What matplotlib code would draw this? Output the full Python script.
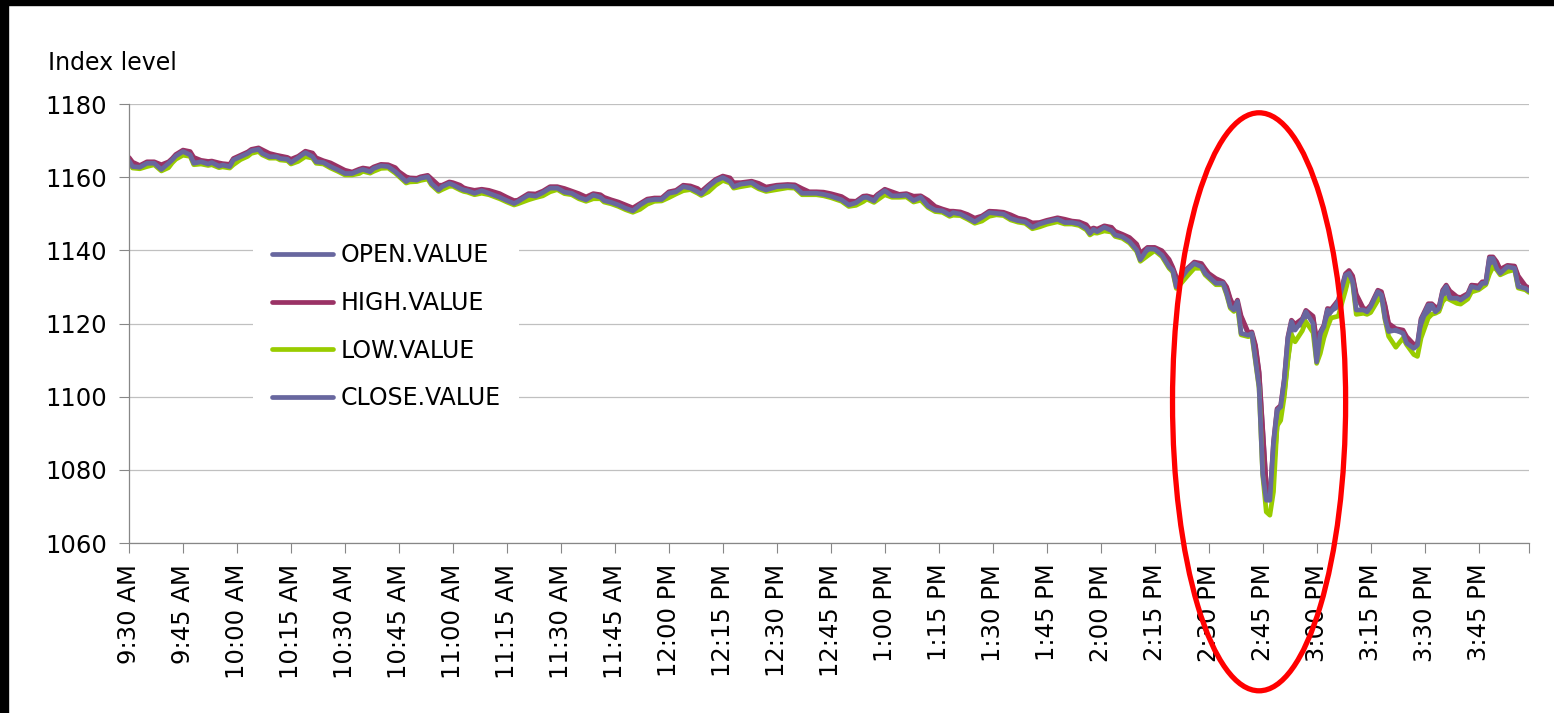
import matplotlib
matplotlib.use("Agg")
import matplotlib.pyplot as plt
from matplotlib.patches import Ellipse, Rectangle

# minutes after 9:30 AM
minutes = [
    0, 1, 3, 5, 7, 9, 11, 12, 13, 15, 17, 18, 20, 22, 23, 25, 26, 28, 29, 31,
    33, 34, 36, 37, 39, 41, 42, 44, 45, 47, 49, 51, 52, 54, 56, 58, 60, 62, 64, 65,
    67, 68, 70, 72, 74, 75, 77, 78, 80, 81, 83, 84, 86, 87, 89, 90, 92, 93, 94, 96,
    98, 100, 103, 105, 107, 108, 111, 113, 115, 117, 119, 121, 123, 125, 127, 129, 131, 132, 134, 136,
    138, 140, 142, 144, 146, 148, 150, 152, 154, 156, 158, 159, 161, 163, 165, 167, 168, 170, 173, 175,
    177, 180, 183, 185, 187, 189, 191, 193, 195, 198, 200, 202, 204, 205, 207, 208, 210, 212, 214, 216,
    218, 220, 222, 224, 226, 228, 229, 231, 233, 235, 237, 239, 241, 243, 245, 247, 249, 251, 253, 255,
    258, 260, 262, 264, 266, 267, 268, 269, 271, 273, 274, 276, 278, 280, 281, 283, 285, 287, 289, 290,
    291, 292, 294, 296, 298, 299, 300, 302, 304, 305, 306, 307, 308, 309, 311, 312, 313, 314, 315, 316,
    317, 318, 319, 320, 321, 322, 323, 324, 326, 327, 329, 330, 331, 332, 333, 334, 336, 338, 339, 340,
    341, 343, 344, 345, 347, 348, 349, 350, 352, 354, 355, 357, 358, 359, 361, 362, 363, 364, 365, 366,
    367, 369, 370, 372, 373, 375, 376, 377, 378, 379, 380, 381, 383, 385, 386, 388, 389,
]

open_value = [
    1165.0, 1163.7, 1162.8, 1163.3, 1163.8, 1163.0, 1163.0, 1164.3, 1165.3, 1166.4, 1166.6, 1165.0, 1164.0, 1163.9, 1163.8, 1163.5, 1163.2, 1163.1, 1163.8, 1165.2,
    1166.1, 1166.9, 1167.4, 1167.1, 1166.1, 1165.6, 1165.4, 1165.0, 1164.5, 1164.7, 1166.0, 1166.2, 1164.9, 1164.1, 1163.5, 1162.5, 1161.5, 1161.0, 1161.4, 1162.0,
    1161.8, 1162.0, 1162.8, 1163.0, 1162.2, 1161.1, 1159.7, 1159.1, 1159.3, 1159.5, 1159.9, 1159.2, 1157.4, 1157.0, 1157.9, 1158.1, 1157.4, 1156.7, 1156.4, 1156.0,
    1156.0, 1156.0, 1155.1, 1154.1, 1153.2, 1153.1, 1154.2, 1155.0, 1155.3, 1156.4, 1157.0, 1156.5, 1155.8, 1155.1, 1154.2, 1154.5, 1154.8, 1154.1, 1153.4, 1152.8,
    1152.0, 1151.2, 1151.6, 1153.0, 1153.8, 1153.9, 1154.8, 1155.8, 1156.7, 1157.2, 1156.5, 1155.7, 1156.4, 1158.2, 1159.5, 1159.4, 1158.1, 1157.8, 1158.3, 1157.9,
    1156.9, 1157.0, 1157.5, 1157.5, 1156.5, 1155.6, 1155.6, 1155.5, 1155.1, 1154.3, 1153.1, 1152.7, 1153.7, 1154.5, 1154.0, 1154.2, 1155.6, 1155.6, 1154.9, 1155.0,
    1154.4, 1154.1, 1153.3, 1151.6, 1150.9, 1150.3, 1150.0, 1150.1, 1149.4, 1148.4, 1148.4, 1149.7, 1150.2, 1150.0, 1149.3, 1148.4, 1148.0, 1147.1, 1146.8, 1147.5,
    1148.2, 1148.1, 1147.6, 1147.4, 1146.6, 1145.3, 1145.2, 1145.4, 1145.7, 1145.9, 1144.8, 1144.0, 1143.1, 1141.3, 1138.8, 1138.9, 1140.4, 1139.5, 1137.1, 1135.0,
    1132.3, 1131.0, 1133.3, 1135.5, 1136.0, 1134.6, 1133.3, 1131.9, 1131.0, 1129.6, 1126.4, 1124.2, 1124.9, 1121.7, 1117.1, 1117.1, 1113.7, 1106.4, 1090.9, 1075.4,
    1071.7, 1079.5, 1091.8, 1096.8, 1100.9, 1110.2, 1118.2, 1119.4, 1119.6, 1122.1, 1121.6, 1114.8, 1113.4, 1118.2, 1121.4, 1123.5, 1124.6, 1129.6, 1133.5, 1132.6,
    1127.6, 1123.7, 1123.5, 1123.9, 1126.7, 1128.3, 1124.6, 1119.6, 1118.0, 1117.8, 1116.0, 1113.9, 1113.7, 1117.5, 1123.0, 1125.0, 1124.1, 1123.7, 1126.4, 1129.4,
    1128.5, 1126.9, 1126.7, 1127.1, 1129.0, 1129.9, 1130.3, 1131.0, 1134.4, 1137.8, 1136.5, 1134.4, 1134.6, 1135.3, 1132.6, 1129.9, 1129.3,
]

high_value = [
    1165.4, 1164.1, 1163.2, 1164.2, 1164.2, 1163.4, 1164.2, 1165.1, 1166.2, 1167.4, 1167.0, 1165.4, 1164.6, 1164.3, 1164.4, 1163.9, 1163.7, 1163.5, 1165.1, 1166.0,
    1166.9, 1167.6, 1168.0, 1167.5, 1166.5, 1166.0, 1165.8, 1165.4, 1164.9, 1165.7, 1167.1, 1166.6, 1165.3, 1164.5, 1163.9, 1162.9, 1161.9, 1161.4, 1162.2, 1162.5,
    1162.2, 1162.8, 1163.5, 1163.4, 1162.6, 1161.5, 1160.1, 1159.8, 1159.7, 1160.1, 1160.5, 1159.6, 1157.8, 1157.8, 1158.7, 1158.5, 1157.8, 1157.1, 1156.8, 1156.4,
    1156.7, 1156.4, 1155.5, 1154.5, 1153.6, 1153.7, 1155.5, 1155.4, 1156.2, 1157.4, 1157.4, 1156.9, 1156.2, 1155.5, 1154.6, 1155.5, 1155.2, 1154.5, 1153.8, 1153.2,
    1152.4, 1151.6, 1152.8, 1154.0, 1154.3, 1154.3, 1156.0, 1156.4, 1157.8, 1157.6, 1156.9, 1156.1, 1157.8, 1159.4, 1160.3, 1159.8, 1158.5, 1158.5, 1158.9, 1158.3,
    1157.3, 1157.8, 1158.0, 1157.9, 1156.9, 1156.0, 1156.0, 1155.9, 1155.5, 1154.7, 1153.5, 1153.4, 1154.8, 1154.9, 1154.4, 1155.3, 1156.7, 1156.0, 1155.3, 1155.5,
    1154.8, 1154.9, 1153.7, 1152.0, 1151.3, 1150.7, 1150.7, 1150.5, 1149.8, 1148.8, 1149.4, 1150.7, 1150.6, 1150.4, 1149.7, 1148.8, 1148.4, 1147.5, 1147.6, 1148.2,
    1148.9, 1148.5, 1148.0, 1147.8, 1147.0, 1145.7, 1146.1, 1145.8, 1146.7, 1146.3, 1145.2, 1144.4, 1143.5, 1141.7, 1139.2, 1140.8, 1140.8, 1139.9, 1137.5, 1135.4,
    1132.7, 1132.3, 1135.0, 1136.8, 1136.4, 1135.0, 1133.7, 1132.3, 1131.4, 1130.0, 1126.8, 1124.6, 1126.4, 1122.1, 1117.5, 1117.7, 1114.1, 1106.8, 1091.3, 1075.8,
    1072.1, 1087.6, 1096.7, 1097.6, 1104.9, 1116.3, 1120.9, 1119.8, 1121.3, 1123.6, 1122.0, 1115.2, 1117.7, 1119.5, 1124.1, 1123.9, 1126.4, 1133.6, 1134.5, 1133.0,
    1128.0, 1124.1, 1123.9, 1125.0, 1129.1, 1128.7, 1125.0, 1120.0, 1118.6, 1118.2, 1116.4, 1114.3, 1114.5, 1121.3, 1125.4, 1125.4, 1124.5, 1124.5, 1129.1, 1130.5,
    1128.9, 1127.3, 1127.1, 1128.2, 1130.5, 1130.3, 1131.4, 1131.4, 1138.2, 1138.2, 1136.9, 1134.8, 1135.9, 1135.7, 1133.0, 1130.3, 1129.7,
]

low_value = [
    1164.1, 1162.5, 1162.3, 1162.9, 1163.4, 1161.7, 1162.6, 1163.9, 1164.9, 1166.0, 1165.7, 1163.4, 1163.6, 1163.2, 1163.4, 1162.6, 1162.8, 1162.5, 1163.4, 1164.8,
    1165.7, 1166.5, 1167.0, 1166.1, 1165.2, 1165.2, 1164.7, 1164.5, 1163.6, 1164.3, 1165.6, 1165.2, 1163.8, 1163.6, 1162.5, 1161.6, 1160.6, 1160.6, 1161.0, 1161.6,
    1161.1, 1161.6, 1162.4, 1162.5, 1161.1, 1160.2, 1158.4, 1158.7, 1158.8, 1159.1, 1159.5, 1157.9, 1156.1, 1156.6, 1157.5, 1157.5, 1156.5, 1156.1, 1155.9, 1155.2,
    1155.6, 1155.2, 1154.1, 1153.2, 1152.4, 1152.7, 1153.8, 1154.4, 1154.9, 1156.0, 1156.6, 1155.5, 1155.2, 1154.1, 1153.4, 1154.1, 1154.1, 1153.2, 1152.7, 1152.0,
    1151.1, 1150.4, 1151.2, 1152.6, 1153.4, 1153.5, 1154.4, 1155.4, 1156.3, 1156.6, 1155.6, 1155.0, 1156.0, 1157.8, 1159.1, 1158.4, 1157.0, 1157.4, 1157.9, 1156.8,
    1156.1, 1156.6, 1157.1, 1157.0, 1155.2, 1155.2, 1155.2, 1154.9, 1154.4, 1153.4, 1152.0, 1152.3, 1153.3, 1154.0, 1153.1, 1153.8, 1155.2, 1154.5, 1154.5, 1154.6,
    1153.2, 1153.7, 1151.7, 1150.6, 1150.4, 1149.3, 1149.6, 1149.5, 1148.5, 1147.4, 1148.0, 1149.3, 1149.7, 1149.5, 1148.3, 1147.7, 1147.4, 1145.9, 1146.4, 1147.1,
    1147.8, 1147.2, 1147.2, 1146.8, 1145.6, 1144.2, 1144.8, 1144.7, 1145.3, 1145.0, 1143.8, 1143.3, 1142.0, 1139.7, 1137.0, 1138.5, 1139.9, 1138.3, 1135.1, 1134.1,
    1129.6, 1130.6, 1132.9, 1135.1, 1135.1, 1133.3, 1132.4, 1130.6, 1130.6, 1127.8, 1124.2, 1123.3, 1124.5, 1116.9, 1116.4, 1116.7, 1109.6, 1102.3, 1078.6, 1068.5,
    1067.6, 1074.0, 1092.0, 1093.5, 1100.0, 1110.0, 1117.0, 1115.0, 1118.0, 1120.5, 1117.5, 1109.1, 1111.8, 1116.0, 1119.0, 1121.5, 1122.0, 1129.0, 1133.0, 1131.0,
    1122.5, 1122.8, 1122.5, 1123.0, 1126.3, 1127.4, 1121.0, 1116.5, 1113.5, 1116.0, 1114.2, 1111.5, 1111.0, 1116.0, 1121.5, 1122.5, 1122.8, 1123.3, 1126.0, 1127.0,
    1126.5, 1125.5, 1125.3, 1126.7, 1128.6, 1129.2, 1129.9, 1130.6, 1133.5, 1135.5, 1134.7, 1133.3, 1134.2, 1134.7, 1129.7, 1129.2, 1128.5,
]

close_value = [
    1164.5, 1162.9, 1162.7, 1163.8, 1163.8, 1162.1, 1163.8, 1164.7, 1165.8, 1167.0, 1166.1, 1163.8, 1164.2, 1163.6, 1164.0, 1163.0, 1163.3, 1162.9, 1164.7, 1165.6,
    1166.5, 1167.2, 1167.6, 1166.5, 1165.6, 1165.6, 1165.1, 1164.9, 1164.0, 1165.3, 1166.7, 1165.6, 1164.2, 1164.0, 1162.9, 1162.0, 1161.0, 1161.0, 1161.8, 1162.1,
    1161.5, 1162.4, 1163.1, 1162.9, 1161.5, 1160.6, 1158.8, 1159.4, 1159.2, 1159.7, 1160.1, 1158.3, 1156.5, 1157.4, 1158.3, 1157.9, 1156.9, 1156.5, 1156.3, 1155.6,
    1156.3, 1155.6, 1154.5, 1153.6, 1152.8, 1153.3, 1155.1, 1154.8, 1155.8, 1157.0, 1157.0, 1155.9, 1155.6, 1154.5, 1153.8, 1155.1, 1154.5, 1153.6, 1153.1, 1152.4,
    1151.5, 1150.8, 1152.4, 1153.6, 1153.9, 1153.9, 1155.6, 1156.0, 1157.4, 1157.0, 1156.0, 1155.4, 1157.4, 1159.0, 1159.9, 1158.8, 1157.4, 1158.1, 1158.5, 1157.2,
    1156.5, 1157.4, 1157.6, 1157.4, 1155.6, 1155.6, 1155.6, 1155.3, 1154.8, 1153.8, 1152.4, 1153.0, 1154.4, 1154.5, 1153.5, 1154.9, 1156.3, 1154.9, 1154.9, 1155.1,
    1153.6, 1154.5, 1152.1, 1151.0, 1150.8, 1149.7, 1150.3, 1149.9, 1148.9, 1147.8, 1149.0, 1150.3, 1150.1, 1149.9, 1148.7, 1148.1, 1147.8, 1146.3, 1147.2, 1147.8,
    1148.5, 1147.6, 1147.6, 1147.2, 1146.0, 1144.6, 1145.7, 1145.1, 1146.3, 1145.4, 1144.2, 1143.7, 1142.4, 1140.1, 1137.4, 1140.4, 1140.3, 1138.7, 1135.5, 1134.5,
    1130.0, 1131.9, 1134.6, 1136.4, 1135.5, 1133.7, 1132.8, 1131.0, 1131.0, 1128.2, 1124.6, 1123.7, 1126.0, 1117.3, 1116.8, 1117.3, 1110.0, 1102.7, 1079.0, 1071.7,
    1071.7, 1087.2, 1096.3, 1097.2, 1104.5, 1115.9, 1120.5, 1118.2, 1120.9, 1123.2, 1120.0, 1109.5, 1117.3, 1119.1, 1123.7, 1123.2, 1126.0, 1133.2, 1133.7, 1131.4,
    1123.7, 1123.7, 1123.2, 1124.6, 1128.7, 1127.8, 1121.4, 1117.8, 1118.2, 1117.3, 1114.6, 1113.2, 1114.1, 1120.9, 1125.0, 1125.0, 1123.2, 1124.1, 1128.7, 1130.1,
    1126.9, 1126.9, 1126.4, 1127.8, 1130.1, 1129.6, 1131.0, 1131.0, 1137.8, 1137.8, 1135.1, 1133.7, 1135.5, 1135.1, 1130.1, 1129.6, 1128.9,
]

time_labels = [
    "9:30 AM", "9:45 AM", "10:00 AM", "10:15 AM", "10:30 AM", "10:45 AM",
    "11:00 AM", "11:15 AM", "11:30 AM", "11:45 AM", "12:00 PM", "12:15 PM",
    "12:30 PM", "12:45 PM", "1:00 PM", "1:15 PM", "1:30 PM", "1:45 PM",
    "2:00 PM", "2:15 PM", "2:30 PM", "2:45 PM", "3:00 PM", "3:15 PM",
    "3:30 PM", "3:45 PM",
]
y_ticks = [1060, 1080, 1100, 1120, 1140, 1160, 1180]

series = [
    ("OPEN.VALUE", open_value, "#68679F"),
    ("HIGH.VALUE", high_value, "#9A3265"),
    ("LOW.VALUE", low_value, "#99CC00"),
    ("CLOSE.VALUE", close_value, "#68679F"),
]

W, H = 1554, 713
fig = plt.figure(figsize=(W / 100, H / 100), dpi=100)
ax = fig.add_axes([129 / W, (H - 543) / H, 1400 / W, 439 / H])

for name, values, color in series:
    ax.plot(minutes, values, color=color, lw=3.4, label=name,
            solid_joinstyle="round", solid_capstyle="round")

ax.set_xlim(0, minutes[-1])
ax.set_ylim(y_ticks[0], y_ticks[-1])
ax.set_yticks(y_ticks)
tick_pos = [15 * i for i in range(len(time_labels))] + [minutes[-1]]
ax.set_xticks(tick_pos)
ax.set_xticklabels(time_labels + [""], rotation=90, fontsize=17.5)
ax.tick_params(axis="y", labelsize=17.5, pad=9)
ax.tick_params(axis="x", pad=8)
ax.tick_params(axis="both", direction="out", length=7, width=0.8,
               color="#878787")

ax.grid(axis="y", color="#C0C0C0", lw=0.9)
ax.set_axisbelow(True)
for side in ["top", "right"]:
    ax.spines[side].set_visible(False)
for side in ["left", "bottom"]:
    ax.spines[side].set_color("#878787")
    ax.spines[side].set_linewidth(0.9)

leg = ax.legend(loc="upper left", bbox_to_anchor=(0.0886, 0.7257),
                frameon=True, fancybox=False, facecolor="white",
                edgecolor="none", framealpha=1, fontsize=17,
                handlelength=2.6, handletextpad=0.3, labelspacing=1.0,
                borderpad=0.8, borderaxespad=0)

# red ring around the crash
ring = Ellipse((314.0, 1098.6), 48.1, 158.0, fill=False, edgecolor="#FF0000",
               lw=3.8, clip_on=False, zorder=5)
ax.add_patch(ring)

fig.text(48 / W, 1 - 70 / H, "Index level", fontsize=17, va="baseline")

# black strips at the top and left edge of the screenshot
fig.patches.append(Rectangle((0, 1 - 5 / H), 1, 5 / H, transform=fig.transFigure,
                             color="black", zorder=10))
fig.patches.append(Rectangle((0, 0), 8 / W, 1, transform=fig.transFigure,
                             color="black", zorder=10))

fig.savefig("out.png", dpi=100)
